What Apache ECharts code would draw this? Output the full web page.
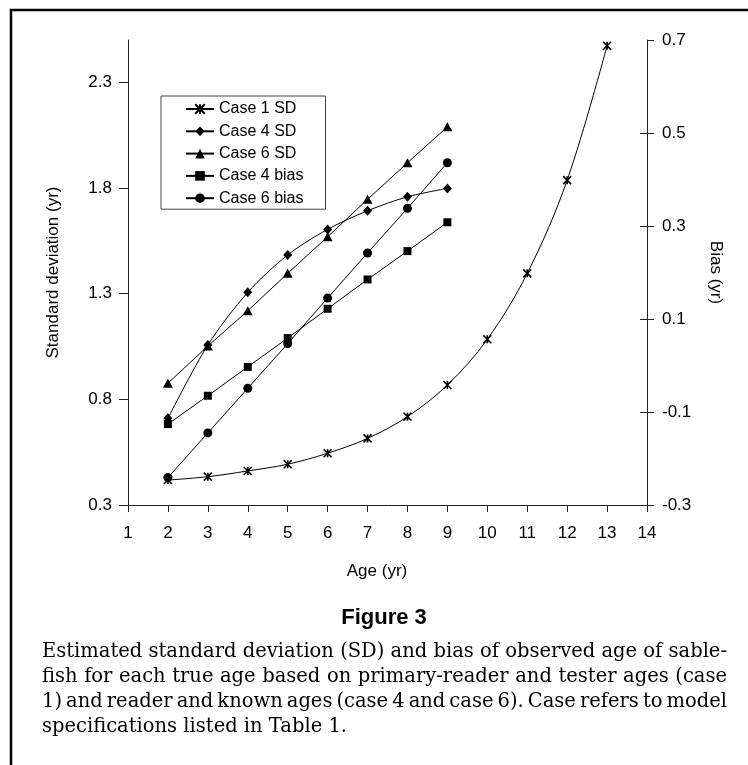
<!DOCTYPE html>
<html>
<head>
<meta charset="utf-8">
<script src="https://cdn.jsdelivr.net/npm/echarts@6/dist/echarts.min.js"></script>
<style>
html,body{margin:0;padding:0;background:#fff;}
#chart{width:748px;height:765px;}
</style>
</head>
<body>
<div id="chart"></div>
<script>
// ---- data ----
const ages = [2, 3, 4, 5, 6, 7, 8, 9];
const agesCase1 = [2, 3, 4, 5, 6, 7, 8, 9, 10, 11, 12, 13];
const case1SD = [0.418, 0.434, 0.461, 0.493, 0.545, 0.615, 0.718, 0.868, 1.084, 1.396, 1.837, 2.473];
const case4SD = [0.71, 1.057, 1.306, 1.483, 1.604, 1.692, 1.758, 1.798];
const case6SD = [0.876, 1.052, 1.219, 1.396, 1.569, 1.746, 1.919, 2.089];
const case4Bias = [-0.126, -0.065, -0.003, 0.059, 0.122, 0.185, 0.246, 0.308];
const case6Bias = [-0.241, -0.145, -0.049, 0.047, 0.145, 0.242, 0.338, 0.436];
const seriesNames = ['Case 1 SD', 'Case 4 SD', 'Case 6 SD', 'Case 4 bias', 'Case 6 bias'];
const sdTicks = [0.3, 0.8, 1.3, 1.8, 2.3];
const biasTicks = [-0.3, -0.1, 0.1, 0.3, 0.5, 0.7];
const xTitle = 'Age (yr)';
const ySDTitle = 'Standard deviation (yr)';
const yBiasTitle = 'Bias (yr)';
const figTitle = 'Figure 3';
const captionLines = [
  'Estimated standard deviation (SD) and bias of observed age of sable-',
  'fish for each true age based on primary-reader and tester ages (case',
  '1) and reader and known ages (case 4 and case 6). Case refers to model',
  'specifications listed in Table 1.'
];

const pair = (xs, ys) => xs.map((x, i) => [x, ys[i]]);
const SANS = '"Liberation Sans", Arial, sans-serif';
const SERIF = '"DejaVu Serif", "Liberation Serif", serif';
const starPath = 'path://M0 0L10 10M0 10L10 0M5 0L5 10';

// caption justification
const capFontSize = 19.5;
const capLeft = 42, capRight = 727;
const mctx = document.createElement('canvas').getContext('2d');
mctx.font = capFontSize + 'px ' + SERIF;
const captionGraphics = [];
captionLines.forEach((line, li) => {
  const y = 652 + li * 25;
  const words = line.split(' ');
  const widths = words.map(w => mctx.measureText(w).width);
  const total = widths.reduce((a, b) => a + b, 0);
  const spaceW = mctx.measureText(' ').width;
  let gap = spaceW;
  if (li < captionLines.length - 1 && words.length > 1) {
    gap = (capRight - capLeft - total) / (words.length - 1);
    if (gap < 1) gap = spaceW;
  }
  let x = capLeft;
  words.forEach((w, wi) => {
    captionGraphics.push({
      type: 'text', x: x, y: y, silent: true,
      style: { text: w, fontSize: capFontSize, fontFamily: SERIF, fill: '#000', verticalAlign: 'middle', align: 'left' }
    });
    x += widths[wi] + gap;
  });
});

const lineStyle = { color: '#000', width: 1 };
const chart = echarts.init(document.getElementById('chart'), null, { renderer: 'canvas' });
chart.setOption({
  backgroundColor: '#fff',
  animation: false,
  textStyle: { fontFamily: SANS, color: '#000' },
  grid: { left: 128, right: 101, top: 40, bottom: 260, containLabel: false },
  legend: {
    orient: 'vertical',
    left: 161, top: 96,
    padding: [5, 22, 3, 24],
    itemWidth: 28, itemHeight: 12, itemGap: 6.3,
    backgroundColor: '#fff',
    borderColor: '#444', borderWidth: 1,
    textStyle: { fontSize: 16, fontFamily: SANS, color: '#000', lineHeight: 16 },
    data: seriesNames
  },
  xAxis: {
    type: 'value', min: 1, max: 14, interval: 1,
    name: xTitle, nameLocation: 'middle', nameGap: 58,
    nameTextStyle: { fontSize: 17, fontFamily: SANS, color: '#000', padding: [0, 21, 0, 0] },
    axisLine: { show: true, onZero: false, lineStyle: { color: '#222', width: 1 } },
    axisTick: { show: true, length: 7, lineStyle: { color: '#222' } },
    axisLabel: { fontSize: 17, color: '#000', margin: 20, fontFamily: SANS },
    splitLine: { show: false }
  },
  yAxis: [
    {
      type: 'value', position: 'left', min: 0.3, max: 2.5,
      name: ySDTitle, nameLocation: 'middle', nameGap: 66, nameRotate: 90,
      nameTextStyle: { fontSize: 17, fontFamily: SANS, color: '#000' },
      axisLine: { show: true, onZero: false, lineStyle: { color: '#222', width: 1 } },
      axisTick: { show: true, length: 9, customValues: sdTicks, lineStyle: { color: '#222' } },
      axisLabel: { fontSize: 17, color: '#000', margin: 16, customValues: sdTicks, fontFamily: SANS,
                   formatter: v => Number(v).toFixed(1) },
      splitLine: { show: false }
    },
    {
      type: 'value', position: 'right', min: -0.3, max: 0.7,
      name: yBiasTitle, nameLocation: 'middle', nameGap: 60, nameRotate: -90,
      nameTextStyle: { fontSize: 17, fontFamily: SANS, color: '#000' },
      axisLine: { show: true, onZero: false, lineStyle: { color: '#222', width: 1 } },
      axisTick: { show: true, length: 7, customValues: biasTicks, lineStyle: { color: '#222' } },
      axisLabel: { fontSize: 17, color: '#000', margin: 15, customValues: biasTicks, fontFamily: SANS,
                   formatter: v => Number(v).toFixed(1) },
      splitLine: { show: false }
    },
    {
      type: 'value', position: 'right', min: -0.3, max: 0.7,
      axisLine: { show: false },
      axisTick: { show: true, inside: true, length: 7, customValues: biasTicks.slice(0, -1), lineStyle: { color: '#222' } },
      axisLabel: { show: false },
      splitLine: { show: false }
    }
  ],
  series: [
    {
      name: seriesNames[0], type: 'line', yAxisIndex: 0, smooth: 0.35,
      data: pair(agesCase1, case1SD),
      symbol: starPath, symbolSize: 8, showSymbol: true,
      itemStyle: { color: '#000', borderColor: '#000', borderWidth: 1.6 },
      lineStyle: lineStyle, z: 5
    },
    {
      name: seriesNames[1], type: 'line', yAxisIndex: 0, smooth: 0.3,
      data: pair(ages, case4SD),
      symbol: 'diamond', symbolSize: [9, 10],
      itemStyle: { color: '#000' }, lineStyle: lineStyle, z: 4
    },
    {
      name: seriesNames[2], type: 'line', yAxisIndex: 0,
      data: pair(ages, case6SD),
      symbol: 'triangle', symbolSize: [10, 9],
      itemStyle: { color: '#000' }, lineStyle: lineStyle, z: 4
    },
    {
      name: seriesNames[3], type: 'line', yAxisIndex: 1,
      data: pair(ages, case4Bias),
      symbol: 'rect', symbolSize: 8,
      itemStyle: { color: '#000' }, lineStyle: lineStyle, z: 4
    },
    {
      name: seriesNames[4], type: 'line', yAxisIndex: 1,
      data: pair(ages, case6Bias),
      symbol: 'circle', symbolSize: 9,
      itemStyle: { color: '#000' }, lineStyle: lineStyle, z: 4
    }
  ],
  graphic: [
    { type: 'rect', silent: true, z: -1,
      shape: { x: 11, y: 10, width: 900, height: 900 },
      style: { fill: 'none', stroke: '#000', lineWidth: 2.5 } },
    { type: 'text', x: 384, y: 618, silent: true,
      style: { text: figTitle, fontSize: 22, fontWeight: 'bold', fontFamily: SANS, fill: '#000', align: 'center', verticalAlign: 'middle' } }
  ].concat(captionGraphics)
});
</script>
</body>
</html>
